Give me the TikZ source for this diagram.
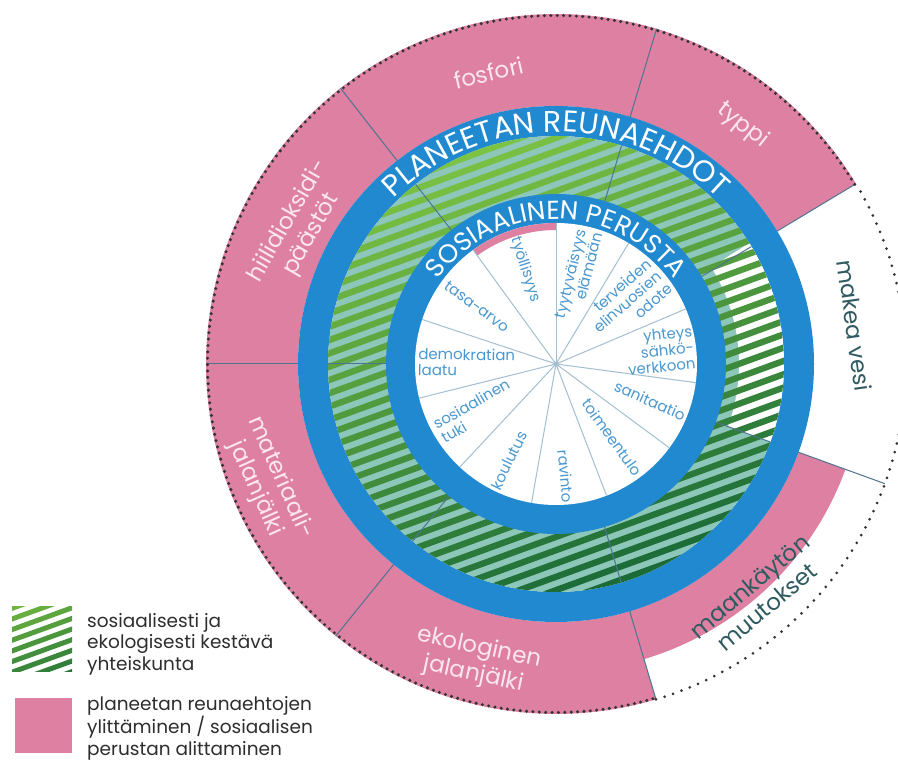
\documentclass[tikz,border=0pt]{standalone}
\usepackage{fontspec}
\setmainfont{Poppins}
\usetikzlibrary{decorations.text}
\definecolor{pinkc}{HTML}{DD80A2}
\definecolor{bluec}{HTML}{2089CF}
\definecolor{tealc}{HTML}{8CC7BA}
\definecolor{gLight}{HTML}{7CC243}
\definecolor{gDark}{HTML}{1B6B38}
\definecolor{linec}{HTML}{4F7490}
\definecolor{spokec}{HTML}{A3BFD0}
\definecolor{innertxt}{HTML}{4A98D0}
\definecolor{pinktxt}{HTML}{FCE6EF}
\definecolor{darktxt}{HTML}{2F5B60}
\definecolor{legtxt}{HTML}{2E2E2E}
\definecolor{dotc}{HTML}{333333}
\newcommand\annsec[5]{\fill[#1] (#2:#4) arc[start angle=#2,end angle=#3,radius=#4] -- (#3:#5) arc[start angle=#3,end angle=#2,radius=#5] -- cycle;}
\tikzset{
  inl/.style={font=\fontsize{15}{16}\selectfont, text=innertxt, inner sep=0pt},
  outl/.style={font=\fontsize{23}{27}\selectfont, text=pinktxt, align=center, inner sep=0pt},
  legl/.style={font=\fontsize{18.5}{21.5}\selectfont, text=legtxt, align=left, inner sep=0pt},
  secline/.style={linec, line width=1pt},
  spoke/.style={spokec, line width=1pt},
  rimdot/.style={fill=dotc, draw=none}
}
\begin{document}
\begin{tikzpicture}[x=1pt,y=1pt]
\useasboundingbox (0,0) rectangle (898,760);
\fill[white] (0,0) rectangle (898,760);
\begin{scope}[shift={(556,396)}]
  % outer pink sectors
  \annsec{pinkc}{128}{180}{258pt}{350pt}
  \annsec{pinkc}{73.3}{128}{258pt}{350pt}
  \annsec{pinkc}{31}{73.3}{258pt}{350pt}
  \annsec{pinkc}{180}{231}{258pt}{350pt}
  \annsec{pinkc}{231}{286.6}{258pt}{350pt}
  \annsec{pinkc}{286.6}{340}{258pt}{308pt}
  % planetary boundary ring
  \fill[bluec, even odd rule] (0,0) circle[radius=258pt] circle[radius=228pt];
  % green hatched ring
  \begin{scope}
    \clip (0,0) circle[radius=228pt];
    \fill[tealc] (0,0) circle[radius=228pt];
    \annsec{white}{-20}{32}{183pt}{229pt}
    \begin{scope}[rotate=20]
      \foreach \k in {-20,...,20}{
        \pgfmathtruncatemacro{\p}{max(0,min(100,50+\k*2.8))}
        \draw[line width=6.3pt, color=gLight!\p!gDark] (-270,\k*12.5) -- (270,\k*12.5);
      }
    \end{scope}
  \end{scope}
  % social foundation ring
  \fill[bluec] (0,0) circle[radius=170pt];
  \fill[white] (0,0) circle[radius=141pt];
  \annsec{pinkc}{90}{126}{134pt}{141pt}
  % spokes
  \foreach \a in {90,59,23,-7.6,-36.5,-69,-100,-133,-166,161.6,126}
    \draw[spoke] (0,0) -- (\a:141pt);
  \fill[spokec] (0,0) circle[radius=2.5pt];
  % sector lines
  \foreach \a in {180,128,73.3,31,-20,-73.4,-129}{
    \draw[secline] (\a:258pt) -- (\a:350pt);
    \draw[secline] (\a:170pt) -- (\a:228pt);
  }
  % curved titles
  \path[decorate, decoration={text along path, text={|\fontsize{30}{30}\selectfont|PLANEETAN REUNAEHDOT}, text color=white, text align=center}] (170:232pt) arc[start angle=170, end angle=10, radius=232pt];
  \path[decorate, decoration={text along path, text={|\fontsize{26}{26}\selectfont|SOSIAALINEN PERUSTA}, text color=white, text align=center}] (170:145pt) arc[start angle=170, end angle=10, radius=145pt];
  % inner labels
  \node[inl, anchor=west, rotate=-72] (l1) at (108:133pt) {työllisyys};
  \node[inl, anchor=east, rotate=76, align=right] (l2) at (76:137pt) {tyytyväisyys\\elämään};
  \node[inl, anchor=east, rotate=41, align=right] (l3) at (41:137pt) {terveiden\\elinvuosien\\odote};
  \node[inl, anchor=east, rotate=6, align=right] (l4) at (7:139pt) {yhteys\\sähkö-\\verkkoon};
  \node[inl, anchor=east, rotate=-24] (l5) at (-22:139pt) {sanitaatio};
  \node[inl, anchor=east, rotate=-54] (l6) at (-53:138pt) {toimeentulo};
  \node[inl, anchor=east, rotate=-85] (l7) at (-85:139pt) {ravinto};
  \node[inl, anchor=west, rotate=64] (l8) at (-116:139pt) {koulutus};
  \node[inl, anchor=west, rotate=30, align=left] (l9) at (-150:136pt) {sosiaalinen\\tuki};
  \node[inl, anchor=west, rotate=-1, align=left] (l10) at (179:138pt) {demokratian\\laatu};
  \node[inl, anchor=west, rotate=-36] (l11) at (144:136pt) {tasa-arvo};
  % outer labels
  \node[outl, rotate=13] (fos) at (103:299pt) {fosfori};
  \node[outl, rotate=-38] (typ) at (52:303pt) {typpi};
  \node[outl, rotate=60] (hii) at (152:290pt) {hiilidioksidi-\\päästöt};
  \node[outl, rotate=-66] (mat) at (202.5:312pt) {materiaali-\\jalanjälki};
  \node[outl, rotate=-12] (eko) at (255:308pt) {ekologinen\\jalanjälki};
  \node[outl, text=darktxt, rotate=-82] (mak) at (7.4:301pt) {makea vesi};
  \node[outl, text=darktxt, rotate=40] (maa) at (-49:308pt) {maankäytön\\muutokset};
\end{scope}
% dotted rim of the outer circle (drawn last)
\begin{scope}[shift={(556,396)}]
  \foreach \i in {0,...,243}{
    \pgfmathsetmacro{\ang}{31+\i*1.05}
    \path[rimdot] (\ang:348.5pt) circle[radius=1.7pt];
  }
  \foreach \i in {0,...,70}{
    \pgfmathsetmacro{\ang}{-73.4+\i*1.4704}
    \path[rimdot] (\ang:350pt) circle[radius=1.5pt];
  }
\end{scope}
% legend
\begin{scope}
  \clip (12,88) rectangle (72,153);
  \begin{scope}[shift={(42,120)}, rotate=20]
    \foreach \k in {-6,...,6}{
      \pgfmathtruncatemacro{\p}{max(0,min(100,50+\k*9))}
      \draw[line width=5pt, color=gLight!\p!gDark] (-60,\k*10) -- (60,\k*10);
    }
  \end{scope}
\end{scope}
\node[legl, anchor=north west] (leg1) at (87,147) {sosiaalisesti ja\\ekologisesti kestävä\\yhteiskunta};
\fill[pinkc] (15,7) rectangle (72,62);
\node[legl, anchor=north west] (leg2) at (87,64) {planeetan reunaehtojen\\ylittäminen / sosiaalisen\\perustan alittaminen};
\end{tikzpicture}
\end{document}
